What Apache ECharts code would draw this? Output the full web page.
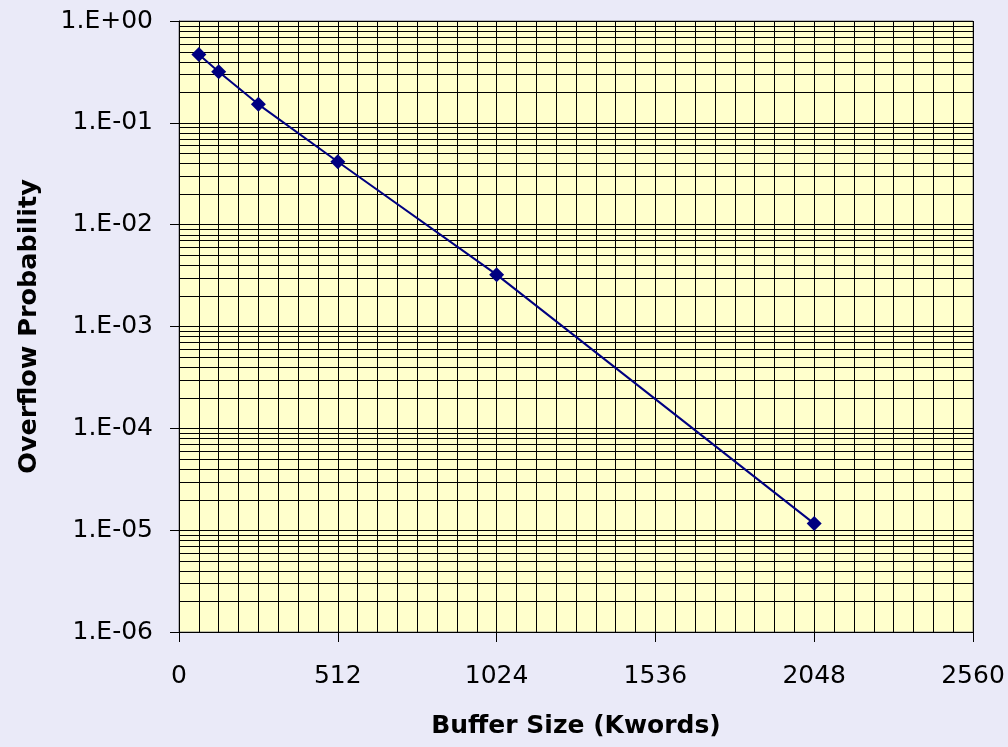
<!DOCTYPE html>
<html>
<head>
<meta charset="utf-8">
<script src="https://cdn.jsdelivr.net/npm/echarts@6/dist/echarts.min.js"></script>
<style>
html,body{margin:0;padding:0;background:#EAEAF8;}
#chart{width:1008px;height:747px;}
</style>
</head>
<body>
<div id="chart"></div>
<script>
// Data
var bufferSize = [64, 128, 256, 512, 1024, 2048];            // Kwords
var overflowProb = [0.47, 0.318, 0.152, 0.0415, 0.00323, 1.16e-5];
var xTickValues = [0, 512, 1024, 1536, 2048, 2560];
var decadeExponents = [-6, -5, -4, -3, -2, -1];
var minorMultipliers = [2, 3, 4, 5, 6, 7, 8, 9];

var minorGridValues = [];
decadeExponents.forEach(function (e) {
  minorMultipliers.forEach(function (m) {
    minorGridValues.push(m * Math.pow(10, e));
  });
});

var FONT = 'DejaVu Sans';
var X_MIN = xTickValues[0], X_MAX = xTickValues[xTickValues.length - 1];
var chart = echarts.init(document.getElementById('chart'), null, {renderer: 'canvas'});

function fmtLog(v) {
  var e = Math.round(Math.log10(v));
  var s = e < 0 ? '-' : '+';
  var a = Math.abs(e);
  return '1.E' + s + (a < 10 ? '0' + a : '' + a);
}

chart.setOption({
  backgroundColor: '#EAEAF8',
  animation: false,
  grid: {
    left: 179, right: 35, top: 21, bottom: 115,
    show: true, backgroundColor: '#FFFFCC', borderColor: '#808080', borderWidth: 1
  },
  xAxis: {
    type: 'value',
    min: X_MIN, max: X_MAX, interval: 512,
    name: 'Buffer Size (Kwords)', nameLocation: 'middle', nameGap: 82,
    nameTextStyle: {fontFamily: FONT, fontSize: 25, fontWeight: 'bold', color: '#000'},
    axisLine: {show: true, lineStyle: {color: '#000', width: 1}},
    axisTick: {show: true, length: 10, lineStyle: {color: '#000'}},
    axisLabel: {fontFamily: FONT, fontSize: 25, color: '#000', margin: 32,
      formatter: function (v) { return String(v); }},
    splitLine: {show: true, lineStyle: {color: '#000', width: 1}},
    minorTick: {show: false, splitNumber: 8},
    minorSplitLine: {show: true, lineStyle: {color: '#000', width: 1}}
  },
  yAxis: {
    type: 'log', logBase: 10, min: 1e-6, max: 1, interval: 1,
    name: 'Overflow Probability', nameLocation: 'middle', nameGap: 137, nameRotate: 90,
    nameTextStyle: {fontFamily: FONT, fontSize: 25.5, fontWeight: 'bold', color: '#000'},
    axisLine: {show: true, lineStyle: {color: '#000', width: 1}},
    axisTick: {show: true, length: 9, lineStyle: {color: '#000'}},
    axisLabel: {fontFamily: FONT, fontSize: 25, color: '#000', margin: 26, formatter: fmtLog},
    splitLine: {show: true, lineStyle: {color: '#000', width: 1}},
    minorTick: {show: false},
    minorSplitLine: {show: false}
  },
  series: [
    {
      type: 'custom', z: 1, silent: true,
      data: minorGridValues.map(function (v) { return [X_MIN, v]; }),
      encode: {x: 0, y: 1},
      clip: true,
      renderItem: function (params, api) {
        var v = api.value(1);
        var p1 = api.coord([X_MIN, v]);
        var p2 = api.coord([X_MAX, v]);
        var y = Math.round(p1[1]) + 0.5;
        return {
          type: 'line',
          shape: {x1: p1[0], y1: y, x2: p2[0], y2: y},
          style: {stroke: '#000', lineWidth: 1}
        };
      }
    },
    {
      type: 'line', z: 5,
      data: bufferSize.map(function (x, i) { return [x, overflowProb[i]]; }),
      symbol: 'diamond', symbolSize: 15,
      itemStyle: {color: '#000080'},
      lineStyle: {color: '#000080', width: 2}
    }
  ]
});
</script>
</body>
</html>
